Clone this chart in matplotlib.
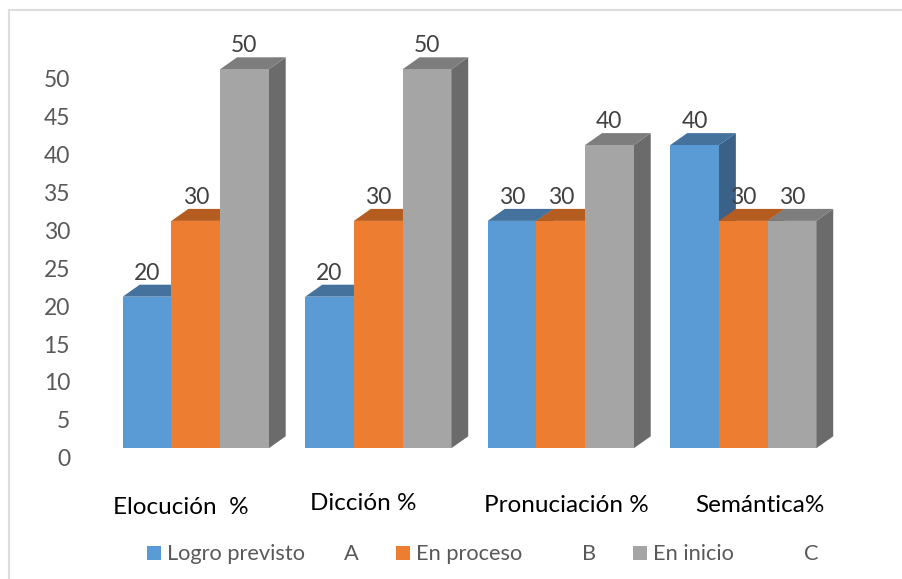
import matplotlib
matplotlib.use("Agg")
import matplotlib.pyplot as plt
from matplotlib.patches import Polygon, Rectangle
from matplotlib.transforms import ScaledTranslation
from matplotlib.lines import Line2D

categories = ["Elocución  %", "Dicción %", "Pronuciación %", "Semántica%"]
series_names = ["Logro previsto", "En proceso", "En inicio"]
series_letters = ["A", "B", "C"]
logro = [20, 20, 30, 40]
proceso = [30, 30, 30, 30]
inicio = [50, 50, 40, 30]
yticks = [0, 5, 10, 15, 20, 25, 30, 35, 40, 45, 50]

W, H = 902, 579
DPI = 100
FONT = "Lato"
plt.rcParams["font.family"] = [FONT, "DejaVu Sans"]

fig = plt.figure(figsize=(W / DPI, H / DPI), dpi=DPI, facecolor="white")
ax = fig.add_axes([0, 0, 1, 1])

# Scale: groups 182.5 px apart, one value unit = 7.58 px
PX_X, PX_Y = 182.5, 7.58
X0, Y0 = 122.7, 448.3
ax.set_xlim(-X0 / PX_X, (W - X0) / PX_X)
ax.set_ylim(-(H - Y0) / PX_Y, Y0 / PX_Y)
ax.patch.set_visible(False)
for s in ax.spines.values():
    s.set_visible(False)

bw = 48.67 / PX_X
dx = 17.0 / PX_X
dy = 12.0 / PX_Y
faces = ["#5B9BD5", "#ED7D31", "#A5A5A5"]
tops = ["#44729D", "#B55D20", "#7D7D7D"]
sides = ["#3A6288", "#A0521C", "#6B6B6B"]
all_series = [logro, proceso, inicio]

for g in range(len(categories)):
    for s in [0, 1, 2]:
        v = all_series[s][g]
        x = g + s * bw
        ax.add_patch(Polygon([(x + bw, 0), (x + bw + dx, dy), (x + bw + dx, v + dy), (x + bw, v)],
                             closed=True, fc=sides[s], ec="none", zorder=2 + s))
        ax.add_patch(Polygon([(x, v), (x + dx, v + dy), (x + bw + dx, v + dy), (x + bw, v)],
                             closed=True, fc=tops[s], ec="none", zorder=2 + s))
        ax.add_patch(Rectangle((x, 0), bw, v, fc=faces[s], ec="none", zorder=2 + s + 0.5))
        ax.text(x + bw / 2, v + dy + 0.15, str(v), ha="center", va="bottom",
                fontsize=16.5, color="#404040", zorder=10)

# value axis: labels sit below/left of the front plane
ax.set_yticks(yticks)
ax.set_xticks([])
ax.tick_params(axis="y", length=0, direction="in", pad=0, labelsize=16.5, labelcolor="#595959")
off = ScaledTranslation(70 / DPI, -9.5 / DPI, fig.dpi_scale_trans)
for lab in ax.get_yticklabels():
    lab.set_transform(lab.get_transform() + off)
    lab.set_ha("right")

def px(x, y):
    return x / W, 1 - y / H

# category labels (placed by hand in the original)
cat_pos = [(113, 508), (310, 504), (484, 506), (695, 506)]
for c, (x, y) in zip(categories, cat_pos):
    fig.text(*px(x, y), c, ha="left", va="center", fontsize=17.5, color="#000000")

# legend
handles_x = [147, 396, 633]
text_x = [167, 416, 653]
letter_x = [351, 589, 811]
for n, l, hx, tx, lx, c in zip(series_names, series_letters, handles_x, text_x, letter_x, faces):
    fig.add_artist(Rectangle(px(hx, 560), 14 / W, 14 / H, transform=fig.transFigure, fc=c, ec="none"))
    fig.text(*px(tx, 554), n, ha="left", va="center", fontsize=15.7, color="#595959")
    fig.text(*px(lx, 554), l, ha="center", va="center", fontsize=15.7, color="#595959")

# frame of the picture
fc = "#DDDDDD"
fig.add_artist(Line2D([9 / W, 9 / W], [0, 1 - 9.5 / H], color=fc, lw=1.5, transform=fig.transFigure))
fig.add_artist(Line2D([9 / W, 1], [1 - 9.5 / H, 1 - 9.5 / H], color=fc, lw=1.5, transform=fig.transFigure))

fig.savefig("out.png", dpi=DPI)
